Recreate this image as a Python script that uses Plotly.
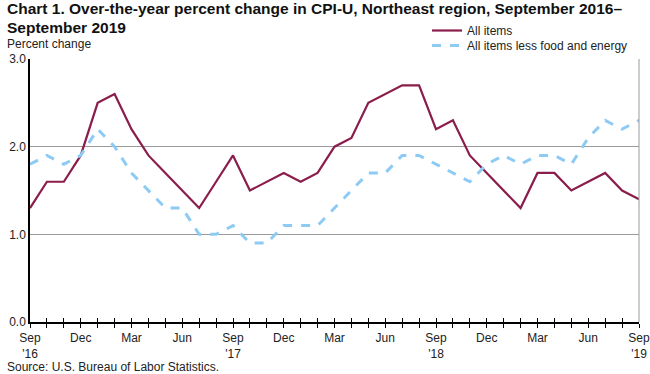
import plotly.graph_objects as go

months = ["Sep '16","Oct","Nov","Dec","Jan '17","Feb","Mar","Apr","May","Jun","Jul","Aug",
          "Sep '17","Oct","Nov","Dec","Jan '18","Feb","Mar","Apr","May","Jun","Jul","Aug",
          "Sep '18","Oct","Nov","Dec","Jan '19","Feb","Mar","Apr","May","Jun","Jul","Aug","Sep '19"]
all_items = [1.3,1.6,1.6,1.9,2.5,2.6,2.2,1.9,1.7,1.5,1.3,1.6,
             1.9,1.5,1.6,1.7,1.6,1.7,2.0,2.1,2.5,2.6,2.7,2.7,
             2.2,2.3,1.9,1.7,1.5,1.3,1.7,1.7,1.5,1.6,1.7,1.5,1.4]
core = [1.8,1.9,1.8,1.9,2.2,2.0,1.7,1.5,1.3,1.3,1.0,1.0,
        1.1,0.9,0.9,1.1,1.1,1.1,1.3,1.5,1.7,1.7,1.9,1.9,
        1.8,1.7,1.6,1.8,1.9,1.8,1.9,1.9,1.8,2.1,2.3,2.2,2.3]
tick_labels = ["Sep<br>'16","","","Dec","","","Mar","","","Jun","","",
               "Sep<br>'17","","","Dec","","","Mar","","","Jun","","",
               "Sep<br>'18","","","Dec","","","Mar","","","Jun","","","Sep<br>'19"]
y_ticks = [0, 1, 2, 3]
title_lines = ["Chart 1. Over-the-year percent change in CPI-U, Northeast region, September 2016–",
               "September 2019"]

FONT = "Liberation Sans, Arial, sans-serif"
x = list(range(len(months)))
W, H = 650, 374
L, R, T, B = 30, 11, 59, 52
PW, PH = W - L - R, H - T - B

fig = go.Figure()
fig.add_trace(go.Scatter(x=x, y=all_items, mode="lines", name="All items", legend="legend",
                         line=dict(color="#8A1D4B", width=2.2), text=months))
fig.add_trace(go.Scatter(x=x, y=core, mode="lines", name="All items less food and energy",
                         legend="legend2",
                         line=dict(color="#8DCBF5", width=3, dash="dash"), text=months))
# overlay axis for inward tick halves
fig.add_trace(go.Scatter(x=x, y=[None]*len(x), xaxis="x2", showlegend=False, hoverinfo="skip"))

leg_common = dict(xanchor="left", xref="container", yanchor="top", yref="container",
                  bgcolor="rgba(0,0,0,0)", font=dict(size=12, family=FONT, color="#222"),
                  tracegroupgap=0, itemwidth=30, borderwidth=0)

def ann_at(text, px_x, px_y_center, size, bold=False):
    # place a left-aligned text with its vertical centre at pixel row px_y_center
    return dict(text=f"<b>{text}</b>" if bold else text, xref="paper", yref="paper",
                x=(px_x - L) / PW, y=1 + (T - px_y_center) / PH,
                xanchor="left", yanchor="middle", showarrow=False, align="left",
                font=dict(size=size, family=FONT, color="#111" if bold else "#222"))

fig.update_layout(
    width=W, height=H,
    margin=dict(l=L, r=R, t=T, b=B, autoexpand=False),
    paper_bgcolor="white", plot_bgcolor="white",
    font=dict(family=FONT, color="#222", size=12),
    showlegend=True,
    legend=dict(x=427/W, y=1 - 16/H, **leg_common),
    legend2=dict(x=427/W, y=1 - 31/H, **leg_common),
    xaxis=dict(range=[0, 36], tickvals=x, ticktext=tick_labels, ticks="outside",
               ticklen=4, tickwidth=1, tickcolor="black", showgrid=False,
               showline=True, linecolor="black", linewidth=1.5, zeroline=False,
               ticklabeloverflow="allow",
               tickfont=dict(size=12, family=FONT, color="#222"), fixedrange=True),
    xaxis2=dict(range=[0, 36], tickvals=x, ticks="inside", ticklen=4, tickwidth=1,
                tickcolor="black", showticklabels=False, overlaying="x", side="bottom",
                showgrid=False, showline=False, zeroline=False, anchor="y"),
    yaxis=dict(range=[0, 3], tickvals=y_ticks, tickformat=".1f", showgrid=True,
               gridcolor="#9a9a9a", gridwidth=1, showline=True, linecolor="black",
               linewidth=1.5, zeroline=False, ticks="", ticklen=0,
               tickfont=dict(size=12, family=FONT, color="#222")),
    shapes=[dict(type="line", xref="paper", yref="paper", x0=1, x1=1, y0=0, y1=1,
                 line=dict(color="#9a9a9a", width=1))],
    annotations=[
        ann_at(title_lines[0], 5, 9, 15.5, bold=True),
        ann_at(title_lines[1], 5, 27.5, 15.5, bold=True),
        ann_at("Percent change", 5, 44.5, 12),
        ann_at("Source: U.S. Bureau of Labor Statistics.", 5, 367, 12),
    ],
)

fig.write_html("out.html", post_script="document.body.style.margin='0';",
               config={"displayModeBar": False})
